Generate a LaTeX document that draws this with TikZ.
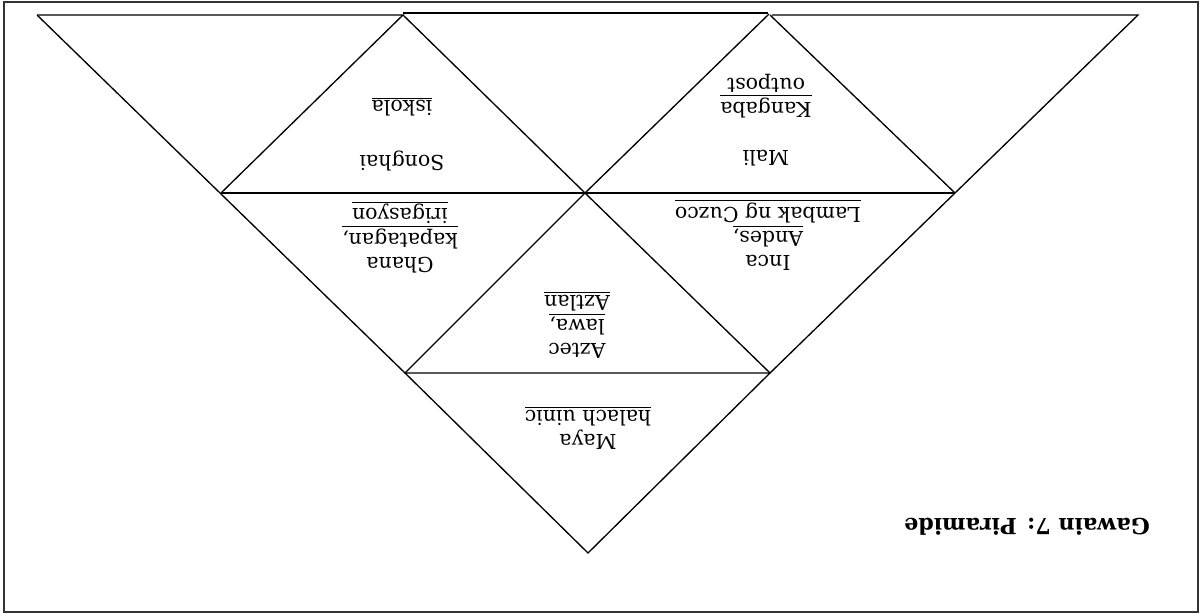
\documentclass[tikz,border=0pt]{standalone}
\usepackage{fontspec}
\setmainfont{DejaVu Serif}
\usepackage{tikz}

\begin{document}
\begin{tikzpicture}[
    x=0.6pt, y=-0.6pt,
    line width=0.8pt,
    every node/.style={font=\fontsize{12.3}{14.5}\selectfont, align=center, rotate=180}
]

% Page frame
\useasboundingbox (0,0) rectangle (1202,616);
\draw[line width=1.1pt, black!80] (4,2) rectangle (1198,612);

% Corners of the pieces
\coordinate (tl) at (37,15);
\coordinate (tr) at (1138,15);
\coordinate (ml) at (221,193);
\coordinate (mc) at (585,193);
\coordinate (mr) at (955,193);
\coordinate (bl) at (405,373);
\coordinate (br) at (770,373);
\coordinate (apex) at (588,553);

% Top row
\draw (tl) -- (403,15) -- (ml);
\draw (403,15) -- (mc);
\draw (403,13) -- (768,13);
\draw (769,14) -- (mc);
\draw (770,15) -- (mr);
\draw (772,15) -- (tr) -- (mr);

% Middle row
\draw (ml) -- (mr);
\draw (tl) -- (bl) -- (mc) -- (br) -- (mr);

% Bottom piece
\draw (bl) -- (br) -- (apex) -- cycle;

% Labels
\node (songhai) at (402,134) {Songhai\\[18pt]\underline{iskola}};
\node (mali) at (766,120) {Mali\\[14pt]\underline{Kangaba}\\outpost};
\node (ghana) at (400,237) {Ghana\\\underline{kapatagan,}\\\underline{irigasyon}};
\node (inca) at (768,235) {Inca\\\underline{Andes,}\\\underline{Lambak ng Cuzco}};
\node (aztec) at (577,325) {Aztec\\\underline{lawa,}\\\underline{Aztlan}};
\node (maya) at (588,428) {Maya\\\underline{halach uinic}};

% Title
\node[font=\fontsize{13.3}{14.5}\selectfont\bfseries] (title) at (1027,527) {Gawain 7: Piramide};

\end{tikzpicture}
\end{document}
